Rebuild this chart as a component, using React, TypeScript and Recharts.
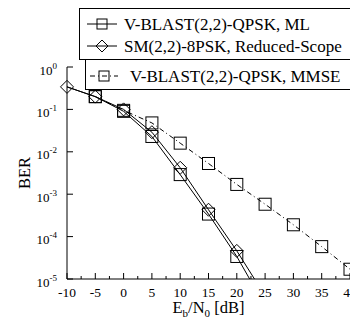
import { LineChart, Line, XAxis, YAxis, Customized } from "recharts";

const snrDb = [-10, -5, 0, 5, 10, 15, 20, 25, 30, 35, 40];
const berMl = [0.34, 0.2, 0.09, 0.023, 0.0029, 0.00034, 0.000034, 0.0000023, null, null, null];
const berSm = [0.34, 0.2, 0.1, 0.029, 0.0042, 0.00043, 0.000046, 0.000004, null, null, null];
const berMmse = [null, 0.2, 0.095, 0.048, 0.016, 0.0053, 0.0017, 0.00058, 0.00019, 0.000058, 0.000017];
const xTicks = [-10, -7.5, -5, -2.5, 0, 2.5, 5, 7.5, 10, 12.5, 15, 17.5, 20, 22.5, 25, 27.5, 30, 32.5, 35, 37.5, 40];
const yTicks = [1e-5, 1e-4, 1e-3, 1e-2, 1e-1, 1];
const legendLabels = [
  "V-BLAST(2,2)-QPSK, ML",
  "SM(2,2)-8PSK, Reduced-Scope",
  "V-BLAST(2,2)-QPSK, MMSE",
];

const Y_MIN = 1e-5;
const Y_MAX = 1;
// markers only where the value is on the plot (lines run on below 1e-5)
const onPlot = (v: number | null) => (v != null && v >= Y_MIN ? v : null);

const data = snrDb.map((snr, i) => ({
  snr,
  ml: berMl[i],
  sm: berSm[i],
  mmse: berMmse[i],
  mlMark: snr === -10 ? null : onPlot(berMl[i]),
  smMark: onPlot(berSm[i]),
  mmseMark: onPlot(berMmse[i]),
}));

const FONT = "'Liberation Serif', 'Times New Roman', serif";

function square(cx: number, cy: number, h: number, key?: string | number) {
  return (
    <rect key={key} x={cx - h} y={cy - h} width={h * 2} height={h * 2} fill="none" stroke="#000" strokeWidth={1} />
  );
}

function diamond(cx: number, cy: number, h: number, key?: string | number) {
  return (
    <path
      key={key}
      d={`M${cx - h},${cy} L${cx},${cy - h} L${cx + h},${cy} L${cx},${cy + h} Z`}
      fill="none"
      stroke="#000"
      strokeWidth={1}
    />
  );
}

const squareDot = (p: any) => (p.value == null ? <g key={p.key} /> : square(p.cx, p.cy, 6, p.key));
const diamondDot = (p: any) => (p.value == null ? <g key={p.key} /> : diamond(p.cx, p.cy, 6.5, p.key));

const BottomTick = ({ x, y, payload }: any) => {
  const major = payload.value % 5 === 0;
  return (
    <g>
      <line x1={x} x2={x} y1={y} y2={y - (major ? 6 : 3)} stroke="#000" />
      {major && (
        <text x={x} y={y + 18} textAnchor="middle" fontFamily={FONT} fontSize={13.5} fill="#000">
          {payload.value}
        </text>
      )}
    </g>
  );
};

const TopTick = ({ x, y, payload }: any) => {
  const major = payload.value % 5 === 0;
  return <line x1={x} x2={x} y1={y} y2={y + (major ? 6 : 3)} stroke="#000" />;
};

const LeftTick = ({ x, y, payload }: any) => {
  const exp = Math.round(Math.log10(payload.value));
  return (
    <g>
      <line x1={x} x2={x + 6} y1={y} y2={y} stroke="#000" />
      <text x={x - 10} y={y + 7.5} textAnchor="end" fontFamily={FONT} fontSize={13} fill="#000">
        10
        <tspan dy={-6} fontSize={9}>
          {exp}
        </tspan>
      </text>
    </g>
  );
};

const RightTick = ({ x, y }: any) => <line x1={x} x2={x - 6} y1={y} y2={y} stroke="#000" />;

const XTitle = ({ viewBox }: any) => (
  <text
    x={viewBox.x + viewBox.width / 2}
    y={viewBox.y + 34}
    textAnchor="middle"
    fontFamily={FONT}
    fontSize={16.5}
    fill="#000"
  >
    E
    <tspan dy={4} fontSize={11}>
      b
    </tspan>
    <tspan dy={-4}>/N</tspan>
    <tspan dy={4} fontSize={11}>
      0
    </tspan>
    <tspan dy={-4}> [dB]</tspan>
  </text>
);

const YTitle = ({ viewBox }: any) => {
  const cx = viewBox.x + 30;
  const cy = viewBox.y + viewBox.height / 2;
  return (
    <text
      x={cx}
      y={cy}
      transform={`rotate(-90 ${cx} ${cy})`}
      textAnchor="middle"
      fontFamily={FONT}
      fontSize={16.5}
      fill="#000"
    >
      BER
    </text>
  );
};

const LegendBoxes = () => (
  <g fontFamily={FONT} fontSize={17} fill="#000">
    <rect x={79.5} y={8.5} width={300} height={51} fill="#fff" stroke="#000" />
    <line x1={87} x2={117} y1={24} y2={24} stroke="#000" />
    {square(102, 24, 5)}
    <text x={124} y={30}>{legendLabels[0]}</text>
    <line x1={87} x2={117} y1={46} y2={46} stroke="#000" />
    {diamond(102, 46, 6)}
    <text x={124} y={52}>{legendLabels[1]}</text>

    <rect x={85.5} y={59.5} width={300} height={30} fill="#fff" stroke="#000" />
    <line x1={90} x2={118} y1={76} y2={76} stroke="#000" strokeDasharray="5 3 1 3" />
    {square(104, 76, 5)}
    <text x={130} y={82}>{legendLabels[2]}</text>
  </g>
);

export default function App() {
  return (
    <div
      style={{
        position: "fixed",
        left: 0,
        top: 0,
        width: 350,
        height: 323,
        overflow: "hidden",
        background: "#fff",
      }}
    >
      <LineChart width={360} height={323} data={data} margin={{ top: 67, right: 10, bottom: 0, left: 0 }}>
        <XAxis
          xAxisId="b"
          dataKey="snr"
          type="number"
          domain={[-10, 40]}
          ticks={xTicks}
          height={44}
          tickSize={0}
          tickMargin={0}
          tickLine={false}
          tick={<BottomTick />}
          axisLine={{ stroke: "#000" }}
          interval={0}
          label={{ content: <XTitle /> }}
        />
        <XAxis
          xAxisId="t"
          orientation="top"
          dataKey="snr"
          type="number"
          domain={[-10, 40]}
          ticks={xTicks}
          height={0}
          tickSize={0}
          tickMargin={0}
          tickLine={false}
          tick={<TopTick />}
          axisLine={{ stroke: "#000" }}
          interval={0}
        />
        <YAxis
          yAxisId="l"
          scale="log"
          type="number"
          domain={[Y_MIN, Y_MAX]}
          ticks={yTicks}
          allowDataOverflow
          width={67}
          tickSize={0}
          tickMargin={0}
          tickLine={false}
          tick={<LeftTick />}
          axisLine={{ stroke: "#000" }}
          interval={0}
          label={{ content: <YTitle /> }}
        />
        <YAxis
          yAxisId="r"
          orientation="right"
          scale="log"
          type="number"
          domain={[Y_MIN, Y_MAX]}
          ticks={yTicks}
          allowDataOverflow
          width={0}
          tickSize={0}
          tickMargin={0}
          tickLine={false}
          tick={<RightTick />}
          axisLine={{ stroke: "#000" }}
          interval={0}
        />
        {/* same scale as "l" but not clipped, so markers at the edges stay whole */}
        <YAxis yAxisId="m" hide scale="log" type="number" domain={[Y_MIN, Y_MAX]} />

        <Line xAxisId="b" yAxisId="l" dataKey="ml" stroke="#000" strokeWidth={1} dot={false} isAnimationActive={false} />
        <Line xAxisId="b" yAxisId="l" dataKey="sm" stroke="#000" strokeWidth={1} dot={false} isAnimationActive={false} />
        <Line
          xAxisId="b"
          yAxisId="l"
          dataKey="mmse"
          stroke="#000"
          strokeWidth={1}
          strokeDasharray="5 3 1 3"
          dot={false}
          isAnimationActive={false}
        />
        <Line xAxisId="b" yAxisId="m" dataKey="mlMark" stroke="none" dot={squareDot} isAnimationActive={false} />
        <Line xAxisId="b" yAxisId="m" dataKey="smMark" stroke="none" dot={diamondDot} isAnimationActive={false} />
        <Line xAxisId="b" yAxisId="m" dataKey="mmseMark" stroke="none" dot={squareDot} isAnimationActive={false} />
        <Customized component={LegendBoxes} />
      </LineChart>
    </div>
  );
}
